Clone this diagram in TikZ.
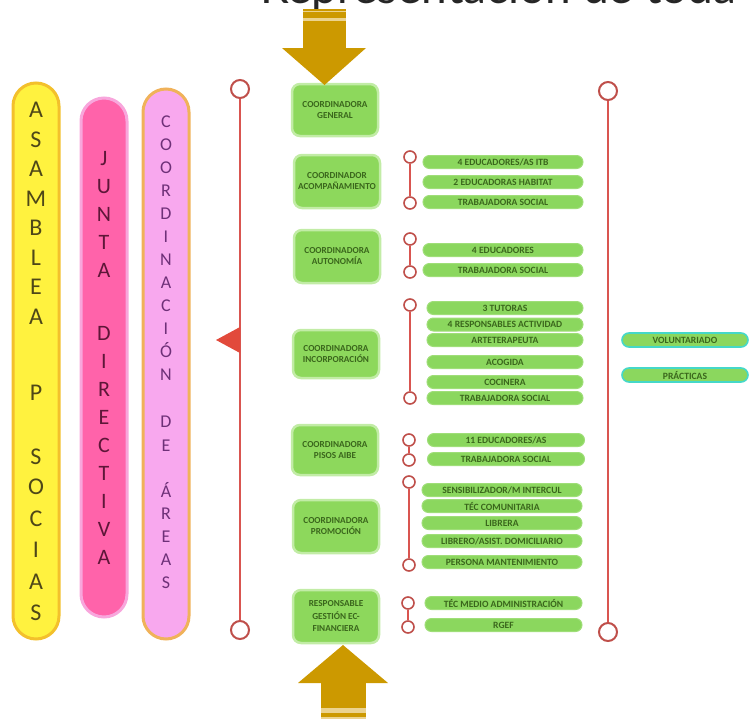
\documentclass[tikz,border=0pt]{standalone}
\usepackage{fontspec}
\setmainfont{Carlito}
\newfontfamily\titlefont{Lato}
\usetikzlibrary{calc}
\definecolor{gold}{HTML}{CC9900}
\definecolor{goldlight}{HTML}{EBD38F}
\definecolor{yelfill}{HTML}{FFF23F}
\definecolor{yeldraw}{HTML}{F3C02C}
\definecolor{pinkfill}{HTML}{FF63AA}
\definecolor{pinkdraw}{HTML}{F8A6DC}
\definecolor{lpfill}{HTML}{F8A8EE}
\definecolor{lpdraw}{HTML}{F0B25A}
\definecolor{redln}{HTML}{D95550}
\definecolor{ringred}{HTML}{BF4F4A}
\definecolor{trired}{HTML}{E24A3B}
\definecolor{boxfill}{HTML}{8DD85C}
\definecolor{boxglow}{HTML}{C2ECA6}
\definecolor{pillfill}{HTML}{8BD75E}
\definecolor{pilldraw}{HTML}{9FDE78}
\definecolor{turq}{HTML}{45D8C8}
\definecolor{txtgreen}{HTML}{3A661C}
\definecolor{yeltxt}{HTML}{4E4718}
\definecolor{pinktxt}{HTML}{5E1638}
\definecolor{lptxt}{HTML}{6E3078}
\begin{document}
\begin{tikzpicture}[x=1pt,y=-1pt,
  vpill/.style={rounded corners=23pt, line width=3pt, minimum width=46pt, inner sep=0pt},
  lettr/.style={anchor=base, inner sep=0pt},
  coordbox/.style={rounded corners=8pt, fill=boxfill, draw=boxglow, line width=2.5pt,
     minimum width=86pt, minimum height=52pt, inner sep=1pt, align=center, text=txtgreen,
     font=\bfseries\fontsize{9.2}{11}\selectfont},
  subpill/.style={rounded corners=6.5pt, fill=pillfill, draw=pilldraw, line width=1pt,
     minimum height=13pt, inner sep=0pt, text=txtgreen, font=\bfseries\fontsize{9.6}{10}\selectfont},
  extpill/.style={subpill, draw=turq, line width=1.6pt, minimum height=14pt, minimum width=126pt, rounded corners=7pt},
  bigring/.style={circle, draw=ringred, line width=2pt, fill=white, minimum size=18pt, inner sep=0pt},
  smallring/.style={circle, draw=ringred, line width=1.6pt, fill=white, minimum size=12pt, inner sep=0pt},
  redconn/.style={draw=redln, line width=2.4pt}
]
\path[use as bounding box] (0,0) rectangle (756,721);
\clip (0,0) rectangle (756,721);

% title (cut by the top edge)
\node[anchor=base west, inner sep=0pt, text=black!85, font=\titlefont\fontsize{46}{50}\selectfont] (title) at (260,3) {Representación de toda};

% vertical pills
\node[vpill, fill=yelfill, draw=yeldraw, minimum height=556pt] (asam) at (36,361) {};
\node[vpill, fill=pinkfill, draw=pinkdraw, minimum height=519pt] (junta) at (104,357.5) {};
\node[vpill, fill=lpfill, draw=lpdraw, minimum height=550pt] (coordar) at (166,364) {};

\foreach \ch/\yy [count=\i] in {A/110,S/139.5,A/169,M/198.5,B/228,L/257.5,E/287,A/316.5,P/393,S/457,O/487,C/519,I/550,A/582,S/613}
  \node[lettr, text=yeltxt, font=\fontsize{24}{24}\selectfont] (ya\i) at (36,{\yy+7.7}) {\ch};
\foreach \ch/\yy [count=\i] in {J/158,U/186,N/214,T/242,A/270,D/333,I/361,R/389,E/417,C/445,T/473,I/501,V/529,A/557}
  \node[lettr, text=pinktxt, font=\fontsize{22}{22}\selectfont] (jd\i) at (104,{\yy+7}) {\ch};
\foreach \ch/\yy [count=\i] in {C/122,O/145,O/168,R/191,D/214,I/237,N/260,A/283,C/306,I/329,Ó/352,N/375,D/422,E/446,Á/492,R/514,E/537,A/560,S/583}
  \node[lettr, text=lptxt, font=\fontsize{18}{18}\selectfont] (ca\i) at (166,{\yy+5.8}) {\ch};

% big red lines
\node[bigring] (lt) at (240,89) {};
\node[bigring] (lb) at (240,630) {};
\node[bigring] (rt) at (608,91) {};
\node[bigring] (rb) at (608,632) {};
\draw[redconn] (lt) -- (lb);
\draw[redconn] (rt) -- (rb);
\fill[trired] (240,327) -- (216,340) -- (240,353) -- cycle;

% coordinator boxes
\node[coordbox] (gen) at (335,110) {COORDINADORA\\GENERAL};
\node[coordbox, minimum height=53pt] (acomp) at (337,181.5) {COORDINADOR\\ACOMPAÑAMIENTO};
\node[coordbox, minimum height=53pt] (auton) at (337,256.5) {COORDINADORA\\AUTONOMÍA};
\node[coordbox, minimum height=48pt] (incorp) at (336,354) {COORDINADORA\\INCORPORACIÓN};
\node[coordbox, minimum height=50pt] (pisos) at (335,450) {COORDINADORA\\PISOS AIBE};
\node[coordbox, minimum height=53pt] (promo) at (336,526.5) {COORDINADORA\\PROMOCIÓN};
\node[coordbox, minimum height=53pt, font=\bfseries\fontsize{9.2}{12.5}\selectfont] (gest) at (336,616.5) {RESPONSABLE\\GESTIÓN EC-\\FINANCIERA};

% gold arrows
\fill[gold] (303,9) rectangle (346,48);
\fill[goldlight] (303,10.5) rectangle (346,12);
\fill[goldlight] (303,17.5) rectangle (346,20.5);
\fill[gold] (282,48) -- (366,48) -- (324.5,85) -- cycle;

\fill[gold] (298,683) -- (388,683) -- (343,645) -- cycle;
\fill[gold] (321,682) rectangle (366,708);
\fill[goldlight] (321,708) rectangle (366,712.5);
\fill[gold] (321,712.5) rectangle (366,717);
\fill[goldlight] (321,717) rectangle (366,719);

% sub brackets
\node[smallring] (a1) at (410,157) {};
\node[smallring] (a2) at (410,203) {};
\node[smallring] (b1) at (410,239) {};
\node[smallring] (b2) at (410,272) {};
\node[smallring] (c1) at (410,305) {};
\node[smallring] (c2) at (410,398) {};
\node[smallring] (d1) at (409,440) {};
\node[smallring] (d2) at (409,460) {};
\node[smallring] (e1) at (409,482) {};
\node[smallring] (e2) at (409,565) {};
\node[smallring] (f1) at (408,603) {};
\node[smallring] (f2) at (408,627) {};
\foreach \g in {a,b,c,d,e,f} \draw[redconn, line width=1.8pt] (\g1) -- (\g2);

% staff pills
\node[subpill, minimum width=160pt] (pa1) at (503,162) {4 EDUCADORES/AS ITB};
\node[subpill, minimum width=160pt] (pa2) at (503,182) {2 EDUCADORAS HABITAT};
\node[subpill, minimum width=160pt] (pa3) at (503,202) {TRABAJADORA SOCIAL};

\node[subpill, minimum width=160pt] (pb1) at (503,250) {4 EDUCADORES};
\node[subpill, minimum width=160pt] (pb2) at (503,270) {TRABAJADORA SOCIAL};

\node[subpill, minimum width=156pt] (pc1) at (505,308) {3 TUTORAS};
\node[subpill, minimum width=156pt] (pc2) at (505,324.5) {4 RESPONSABLES ACTIVIDAD};
\node[subpill, minimum width=156pt] (pc3) at (505,340) {ARTETERAPEUTA};
\node[subpill, minimum width=156pt] (pc4) at (505,362) {ACOGIDA};
\node[subpill, minimum width=156pt] (pc5) at (505,382) {COCINERA};
\node[subpill, minimum width=156pt] (pc6) at (505,398) {TRABAJADORA SOCIAL};

\node[subpill, minimum width=157pt] (pd1) at (506,440) {11 EDUCADORES/AS};
\node[subpill, minimum width=157pt] (pd2) at (506,459) {TRABAJADORA SOCIAL};

\node[subpill, minimum width=160pt] (pe1) at (502,490) {SENSIBILIZADOR/M INTERCUL};
\node[subpill, minimum width=160pt] (pe2) at (502,506) {TÉC COMUNITARIA};
\node[subpill, minimum width=160pt] (pe3) at (502,523) {LIBRERA};
\node[subpill, minimum width=160pt] (pe4) at (502,541) {LIBRERO/ASIST. DOMICILIARIO};
\node[subpill, minimum width=160pt] (pe5) at (502,562) {PERSONA MANTENIMIENTO};

\node[subpill, minimum width=157pt] (pf1) at (503.5,603) {TÉC MEDIO ADMINISTRACIÓN};
\node[subpill, minimum width=157pt] (pf2) at (503.5,625) {RGEF};

% external
\node[extpill] (vol) at (685,340) {VOLUNTARIADO};
\node[extpill] (prac) at (685,375) {PRÁCTICAS};
\end{tikzpicture}
\end{document}
